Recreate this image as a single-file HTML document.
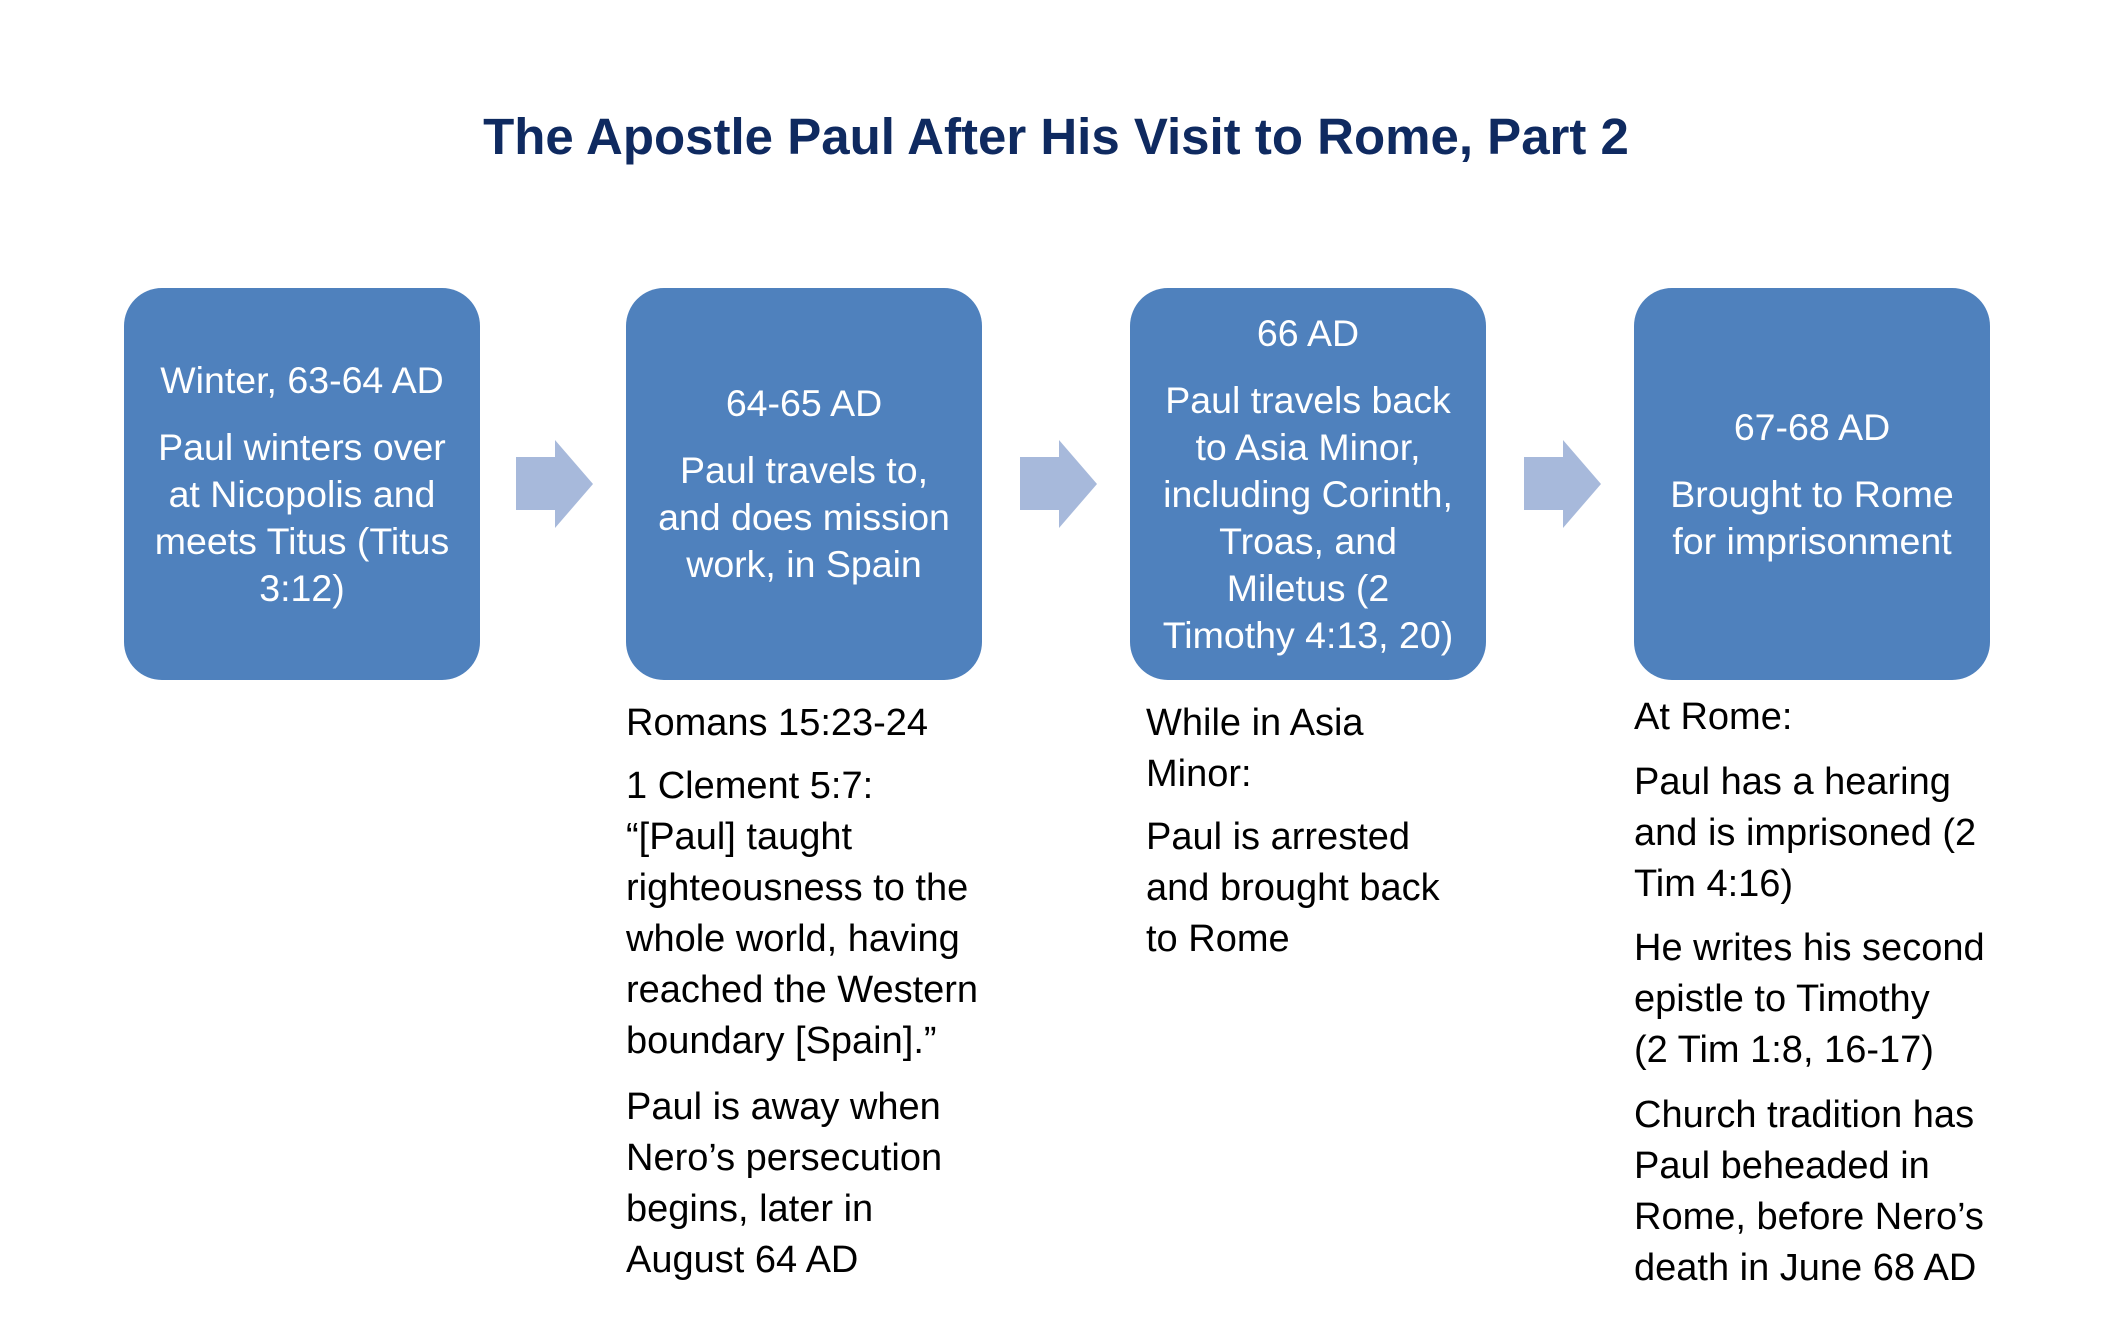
<!DOCTYPE html>
<html><head><meta charset="utf-8"><style>
body{margin:0;width:2112px;height:1344px;background:#fff;position:relative;overflow:hidden;font-family:"Liberation Sans",sans-serif}
.t{position:absolute;left:0;width:2112px;top:104px;text-align:center;font-size:51px;font-weight:bold;color:#0f2a60;line-height:66px}
.box{position:absolute;top:288px;width:356px;height:392px;background:#4f81bd;border-radius:38px;display:flex;flex-direction:column;justify-content:center;align-items:center;color:#fff;font-size:37.5px;line-height:47px;text-align:center;white-space:nowrap}
.box p{margin:0 0 20px}.box p:last-child{margin:0}
.arr{position:absolute;top:440px;width:77px;height:88px}
.tx{position:absolute;font-size:38px;line-height:51px;color:#000;white-space:nowrap}
</style></head><body>
<div class="t">The Apostle Paul After His Visit to Rome, Part 2</div>

<div class="box" style="left:124px"><p>Winter, 63-64 AD</p><p>Paul winters over<br>at Nicopolis and<br>meets Titus (Titus<br>3:12)</p></div>
<div class="box" style="left:626px"><p>64-65 AD</p><p>Paul travels to,<br>and does mission<br>work, in Spain</p></div>
<div class="box" style="left:1130px"><p>66 AD</p><p>Paul travels back<br>to Asia Minor,<br>including Corinth,<br>Troas, and<br>Miletus (2<br>Timothy 4:13, 20)</p></div>
<div class="box" style="left:1634px"><p>67-68 AD</p><p>Brought to Rome<br>for imprisonment</p></div>

<svg class="arr" style="left:516px" viewBox="0 0 77 88"><polygon points="0,17 39,17 39,0 77,44 39,88 39,70 0,70" fill="#a7b9db"/></svg>
<svg class="arr" style="left:1020px" viewBox="0 0 77 88"><polygon points="0,17 39,17 39,0 77,44 39,88 39,70 0,70" fill="#a7b9db"/></svg>
<svg class="arr" style="left:1524px" viewBox="0 0 77 88"><polygon points="0,17 39,17 39,0 77,44 39,88 39,70 0,70" fill="#a7b9db"/></svg>

<div class="tx" style="left:626px;top:698px">Romans 15:23-24</div>
<div class="tx" style="left:626px;top:761px">1 Clement 5:7:<br>“[Paul] taught<br>righteousness to the<br>whole world, having<br>reached the Western<br>boundary [Spain].”</div>
<div class="tx" style="left:626px;top:1082px">Paul is away when<br>Nero’s persecution<br>begins, later in<br>August 64 AD</div>

<div class="tx" style="left:1146px;top:698px">While in Asia<br>Minor:</div>
<div class="tx" style="left:1146px;top:812px">Paul is arrested<br>and brought back<br>to Rome</div>

<div class="tx" style="left:1634px;top:692px">At Rome:</div>
<div class="tx" style="left:1634px;top:757px">Paul has a hearing<br>and is imprisoned (2<br>Tim 4:16)</div>
<div class="tx" style="left:1634px;top:923px">He writes his second<br>epistle to Timothy<br>(2 Tim 1:8, 16-17)</div>
<div class="tx" style="left:1634px;top:1090px">Church tradition has<br>Paul beheaded in<br>Rome, before Nero’s<br>death in June 68 AD</div>
</body></html>
